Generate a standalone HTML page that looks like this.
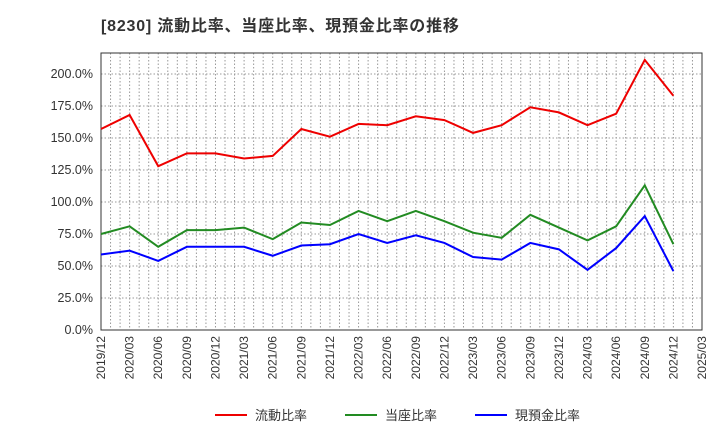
<!DOCTYPE html>
<html><head><meta charset="utf-8"><style>
body{margin:0;background:#fff;font-family:"Liberation Sans","Noto Sans CJK JP",sans-serif;}
</style></head><body>
<svg id="c" width="720" height="440" xmlns="http://www.w3.org/2000/svg">
<text x="101" y="31" font-size="16" font-weight="bold" letter-spacing="0.8" fill="#333">[8230]  流動比率、当座比率、現預金比率の推移</text>
<g id="grid"></g><g id="axes"></g><g id="series"></g><g id="legend"></g>
</svg>
<script>
const categories=["2019/12","2020/03","2020/06","2020/09","2020/12","2021/03","2021/06","2021/09","2021/12","2022/03","2022/06","2022/09","2022/12","2023/03","2023/06","2023/09","2023/12","2024/03","2024/06","2024/09","2024/12"];
const tickLabels=["2019/12","2020/03","2020/06","2020/09","2020/12","2021/03","2021/06","2021/09","2021/12","2022/03","2022/06","2022/09","2022/12","2023/03","2023/06","2023/09","2023/12","2024/03","2024/06","2024/09","2024/12","2025/03"];
const yTicks=[0,25,50,75,100,125,150,175,200];
const currentRatio=[157,168,128,138,138,134,136,157,151,161,160,167,164,154,160,174,170,160,169,211,183];
const quickRatio=[75,81,65,78,78,80,71,84,82,93,85,93,85,76,72,90,80,70,81,113,67];
const cashRatio=[59,62,54,65,65,65,58,66,67,75,68,74,68,57,55,68,63,47,64,89,46];
const NS="http://www.w3.org/2000/svg";
const L=101,R=702,T=53,B=330;
const x=i=>L+(R-L)*i/21;
const y=v=>B-v*(256/200);
function mk(t,a,p){const e=document.createElementNS(NS,t);for(const k in a)e.setAttribute(k,a[k]);p.appendChild(e);return e;}
const g=document.getElementById('grid'),ax=document.getElementById('axes'),s=document.getElementById('series'),lg=document.getElementById('legend');
for(let m=1;m<63;m++){const e=mk('line',{x1:L+(R-L)*m/63,x2:L+(R-L)*m/63,y1:T,y2:B,stroke:'#999','stroke-dasharray':'1.5,2','stroke-width':1},g);

}
yTicks.forEach(v=>{const e=mk('line',{x1:L,x2:R,y1:y(v),y2:y(v),stroke:'#999','stroke-dasharray':'1.5,2'},g);


const t=mk('text',{x:L-8,y:y(v)+4,'text-anchor':'end','font-size':12.5,fill:'#333'},ax);t.textContent=v.toFixed(1)+'%';

});
tickLabels.forEach((lab,i)=>{const t=mk('text',{transform:`translate(${x(i)+4},${B+6}) rotate(-90)`,'text-anchor':'end','font-size':12,fill:'#333'},ax);t.textContent=lab;

});
const fr=mk('rect',{x:L,y:T,width:R-L,height:B-T,fill:'none',stroke:'#333'},ax);


const ser=[[currentRatio,'#e00','流動比率','current-ratio-line'],[quickRatio,'#228b22','当座比率','quick-ratio-line'],[cashRatio,'#00f','現預金比率','cash-ratio-line']];
ser.forEach(([d,c,n,id],k)=>{const p=mk('polyline',{points:d.map((v,i)=>x(i)+','+y(v)).join(' '),fill:'none',stroke:c,'stroke-width':2},s);


const lx=[215,345,475][k];
const ll=mk('line',{x1:lx,x2:lx+32,y1:415,y2:415,stroke:c,'stroke-width':2},lg);


const t=mk('text',{x:lx+40,y:420,'font-size':13,fill:'#333'},lg);t.textContent=n;

});
</script>
</body></html>
